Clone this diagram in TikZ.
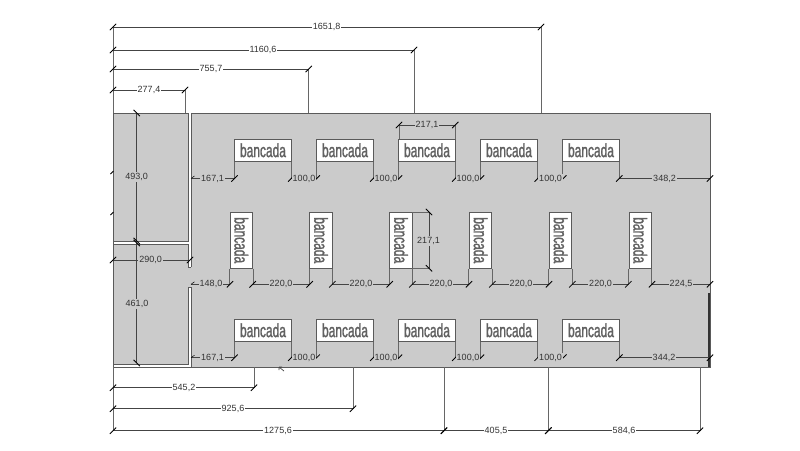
\documentclass[tikz,border=0pt]{standalone}
\usepackage{fontspec}
\setmainfont{Liberation Sans}
\newfontfamily\benchfont[FakeStretch=0.63,FakeBold=1.2]{Liberation Sans}
\definecolor{floorgray}{HTML}{CBCBCB}
\definecolor{wallline}{HTML}{5A5A5A}
\definecolor{dimline}{HTML}{444444}
\definecolor{extline}{HTML}{666666}
\tikzset{
  x=1pt,y=-1pt,
  floorarea/.style={fill=floorgray,draw=wallline,line width=.9pt},
  bench/.style={draw=wallline,fill=white,line width=.9pt,minimum width=56.5pt,minimum height=22.5pt,inner sep=0pt,
    font=\benchfont\fontsize{19}{19}\selectfont,text=black!62},
  vbench/.style={bench,minimum width=22.5pt,minimum height=56.5pt},
  dimtext/.style={inner sep=1pt,font=\fontsize{9}{9}\selectfont,text=black!80},
  onfloor/.style={dimtext,fill=floorgray},
  onwhite/.style={dimtext,fill=white},
  dimstroke/.style={draw=dimline,line width=.7pt},
  extstroke/.style={draw=extline,line width=.95pt},
  ticks/.style={draw=black,line width=.8pt},
}
% horizontal dimension: x1, x2, y, label x, label style, text
\newcommand{\hdimen}[6]{%
  \draw[dimstroke] (#1,#3) -- (#2,#3);
  \draw[ticks] (#1-3.2,#3+3.2) -- (#1+3.2,#3-3.2);
  \draw[ticks] (#2-3.2,#3+3.2) -- (#2+3.2,#3-3.2);
  \node[#5] at (#4,#3) {#6};}
% same, with a short half tick at the left end, on the wall
\newcommand{\hdimenwall}[6]{%
  \draw[dimstroke] (#1,#3) -- (#2,#3);
  \draw[ticks,line width=.5pt] (#1,#3) -- (#1+3.5,#3-2.5);
  \draw[ticks] (#2-3.2,#3+3.2) -- (#2+3.2,#3-3.2);
  \node[#5] at (#4,#3) {#6};}
% vertical dimension: x, y1, y2, label x, label y, text
\newcommand{\vdimen}[6]{%
  \draw[dimstroke] (#1,#2) -- (#1,#3);
  \draw[ticks] (#1-3.2,#2-3.2) -- (#1+3.2,#2+3.2);
  \draw[ticks] (#1-3.2,#3-3.2) -- (#1+3.2,#3+3.2);
  \node[onfloor] at (#4,#5) {#6};}
\begin{document}
\begin{tikzpicture}
\useasboundingbox (0,0) rectangle (800,450);
% floor
\draw[floorarea] (113,113) rectangle (710,367);
% wall band between rooms and hall
\fill[white] (188,113) rectangle (191,267);
\fill[white] (188,287) rectangle (191,367);
\fill[white] (113,241) rectangle (191,244);
\fill[white] (113,364) rectangle (191,367);
\draw[wallline,line width=.8pt] (113,113) -- (188,113) -- (188,241) -- (113,241);
\draw[wallline,line width=.8pt] (113,244) -- (188,244) -- (188,260) (188,287) -- (188,364) -- (113,364);
\draw[wallline,line width=.8pt] (188,260) -- (188,267) -- (191,267);
\draw[wallline,line width=.8pt] (188,287) -- (191,287);
\draw[wallline,line width=.8pt] (191,113) -- (191,267) (191,287) -- (191,367);
\draw[wallline,line width=.9pt] (113,367) -- (710,367);
\draw[wallline,line width=.9pt] (113,113) -- (113,367);
\draw[black!80,line width=1.2pt] (709,293) -- (709,367);
% extension lines, outer
\foreach \xx/\yy in {113/27,185/90,308.7/69,414/50,541/27}{\draw[extstroke] (\xx,\yy) -- (\xx,113);}
\foreach \xx/\yy in {113/431,254/388,353/409,444/431,548.3/431,700/431}{\draw[extstroke] (\xx,367) -- (\xx,\yy);}
% benches, top and bottom rows
\foreach \n/\cx in {1/263,2/345,3/427,4/509,5/591}{
  \node[bench] (t\n) at (\cx,150.3) {bancada};
  \node[bench] (b\n) at (\cx,330.3) {bancada};
  \draw[extstroke] (t\n.south west) -- ++(0,17);
  \draw[extstroke] (t\n.south east) -- ++(0,17);
  \draw[extstroke] (b\n.south west) -- ++(0,16);
  \draw[extstroke] (b\n.south east) -- ++(0,16);
}
% benches, middle row
\foreach \n/\cx in {1/241.3,2/321,3/401,4/480.6,5/560.6,6/640.2}{
  \node[vbench] (m\n) at (\cx,240.2) {\rotatebox{-90}{bancada}};
  \draw[extstroke] (m\n.south west) -- ++(0,16);
  \draw[extstroke] (m\n.south east) -- ++(0,16);
}
% outer dimensions, top
\hdimen{113}{541}{27}{326.7}{onwhite}{1651,8}
\hdimen{113}{414}{50}{263}{onwhite}{1160,6}
\hdimen{113}{308.7}{69}{211}{onwhite}{755,7}
\hdimen{113}{185}{90}{149}{onwhite}{277,4}
% outer dimensions, bottom
\hdimen{113}{254}{387.7}{184}{onwhite}{545,2}
\hdimen{113}{353}{408.7}{233}{onwhite}{925,6}
\hdimen{113}{444}{430.7}{278}{onwhite}{1275,6}
\hdimen{444}{548.3}{430.7}{496}{onwhite}{405,5}
\hdimen{548.3}{700}{430.7}{624}{onwhite}{584,6}
% rooms
\vdimen{136.7}{113}{241}{136.7}{177}{493,0}
\vdimen{136.7}{243}{363}{137}{304}{461,0}
\hdimen{113}{190}{260}{150.7}{onfloor}{290,0}
\draw[ticks] (110.5,174) -- (113.5,171);
\draw[ticks] (110.5,215) -- (113.5,212);
% top bench chain
\draw[extstroke] (399,139) -- (399,125) (455.3,139) -- (455.3,125);
\hdimen{399}{455.3}{125}{427}{onfloor}{217,1}
\hdimenwall{191}{234.5}{178.5}{212.5}{onfloor}{167,1}
\foreach \a/\b/\c in {291.3/316.7/304,373.3/399/386,455.3/481/468,537.7/563.3/550.5}{
  \hdimen{\a}{\b}{178.5}{\c}{onfloor}{100,0}
}
\hdimen{619.3}{710}{178.5}{664.5}{onfloor}{348,2}
% middle chain
\hdimenwall{191}{230}{284.3}{211}{onfloor}{148,0}
\foreach \a/\b/\c in {252.7/309.7/281,332.3/389.7/361,412.3/469/441,492.3/549/521,572.3/628.3/600.5}{
  \hdimen{\a}{\b}{284.3}{\c}{onfloor}{220,0}
}
\hdimen{652}{710}{284.3}{681}{onfloor}{224,5}
\draw[extstroke,line width=.5pt] (412.3,212) -- (429,212) (412.3,268.3) -- (429,268.3);
\vdimen{429}{212}{268.3}{428.5}{241}{217,1}
% bottom bench chain
\hdimenwall{191}{234.5}{357.7}{212.5}{onfloor}{167,1}
\foreach \a/\b/\c in {291.3/316.7/304,373.3/399/386,455.3/481/468,537.7/563.3/550.5}{
  \hdimen{\a}{\b}{357.7}{\c}{onfloor}{100,0}
}
\hdimen{619.3}{710}{357.7}{664}{onfloor}{344,2}
% stray mark below the hall
\draw[dimline,line width=.7pt] (284,371) -- (279,367) (279,367) -- (279,370) (279,367) -- (282,367);
\end{tikzpicture}
\end{document}
